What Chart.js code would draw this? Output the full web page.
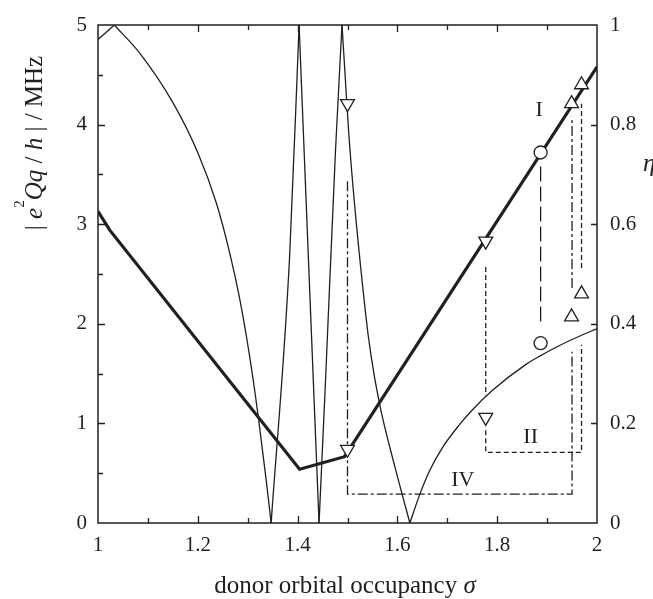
<!DOCTYPE html>
<html>
<head>
<meta charset="utf-8">
<script src="https://cdn.jsdelivr.net/npm/chart.js@4.4.0/dist/chart.umd.min.js"></script>
<style>
  html, body { margin:0; padding:0; background:#fff; }
</style>
</head>
<body>
<canvas id="c" width="653" height="599"></canvas>
<script>
// |e^2Qq/h| (MHz) against donor orbital occupancy sigma
const qccX = [1.0, 1.0236, 1.404, 1.494, 2.0];
const qccY = [3.13, 2.94, 0.54, 0.666, 4.58];

// asymmetry parameter eta (right axis)
const etaX = [1.0, 1.0327, 1.084, 1.1507, 1.2007, 1.2373, 1.264, 1.284, 1.304, 1.3207, 1.3373, 1.347,
              1.384, 1.403, 1.425, 1.443, 1.456, 1.476, 1.489, 1.505, 1.536, 1.547, 1.564, 1.597, 1.625,
              1.645, 1.665, 1.69, 1.724, 1.751, 1.79, 1.857, 1.887, 1.924, 1.99, 2.0];
const etaY = [0.971, 1.0, 0.943, 0.843, 0.742, 0.642, 0.542, 0.45, 0.334, 0.217, 0.084, 0.0,
              0.535, 1.0, 0.448, 0.0, 0.287, 0.749, 1.0, 0.749, 0.423, 0.337, 0.24, 0.105, 0.0,
              0.058, 0.106, 0.151, 0.197, 0.228, 0.266, 0.318, 0.336, 0.356, 0.386, 0.39];
// indices of the sharp corners of the eta curve
const etaCusps = [0, 1, 11, 13, 15, 18, 24, 35];

// measured points: coupling constant (left) and eta (right)
const downX = [1.5, 1.777];
const downQ = [0.74, 2.83];
const downEta = [0.842, 0.212];
const circX = [1.887];
const circQ = [3.72];
const circEta = [0.361];
const upX = [1.949, 1.969];
const upQ = [4.21, 4.40];
const upEta = [0.414, 0.46];

// bracket lines (left axis units), null = break
const ivX = [1.5, 1.5, 1.95, 1.95, 1.95, 1.95, 1.95];
const ivY = [3.43, 0.29, 0.29, 1.72, null, 2.36, 4.08];
const iiX = [1.777, 1.777, 1.777, 1.777, 1.777, 1.969, 1.969, 1.969, 1.969, 1.969];
const iiY = [2.57, 1.28, null, 0.93, 0.71, 0.71, 1.79, null, 2.56, 4.21];
const iX = [1.887, 1.887];
const iY = [3.58, 1.98];

// region labels
const regionText = ['I', 'II', 'IV'];
const regionX = [1.884, 1.867, 1.731];
const regionY = [4.14, 0.858, 0.43];

const ink = '#231f20';
const serif = '"Liberation Serif", "DejaVu Serif", serif';
const pts = (xs, ys) => xs.map((x, i) => ({ x: x, y: ys[i] }));

function drawRich(ctx, parts, x, y) {
  const fontOf = s => s === 'i' ? 'italic 25px ' + serif : (s === 's' ? '15px ' + serif : '25px ' + serif);
  let w = 0;
  parts.forEach(p => { ctx.font = fontOf(p[1]); w += ctx.measureText(p[0]).width; });
  let cx = x - w / 2;
  ctx.textAlign = 'left';
  ctx.textBaseline = 'alphabetic';
  parts.forEach(p => {
    ctx.font = fontOf(p[1]);
    ctx.fillText(p[0], cx, y + (p[1] === 's' ? -18 : 0));
    cx += ctx.measureText(p[0]).width;
  });
}

const frame = {
  id: 'frame',
  afterDraw(chart) {
    const { ctx, chartArea: a, scales } = chart;
    const x = scales.x, y = scales.y, y1 = scales.y1;
    ctx.save();
    ctx.strokeStyle = ink;
    ctx.lineWidth = 1.5;
    ctx.strokeRect(a.left, a.top, a.right - a.left, a.bottom - a.top);
    ctx.lineWidth = 1.3;
    ctx.beginPath();
    // inward ticks, x every 0.1
    for (let i = 1; i < 10; i++) {
      const px = Math.round(x.getPixelForValue(1 + i / 10)) + 0.5;
      const len = i % 2 === 0 ? 7 : 5;
      ctx.moveTo(px, a.bottom); ctx.lineTo(px, a.bottom - len);
      ctx.moveTo(px, a.top); ctx.lineTo(px, a.top + len);
    }
    // left every 0.5
    for (let i = 1; i < 10; i++) {
      const py = Math.round(y.getPixelForValue(i / 2)) + 0.5;
      const len = i % 2 === 0 ? 7 : 5;
      ctx.moveTo(a.left, py); ctx.lineTo(a.left + len, py);
    }
    // right every 0.2
    for (let i = 1; i < 5; i++) {
      const py = Math.round(y1.getPixelForValue(i / 5)) + 0.5;
      ctx.moveTo(a.right, py); ctx.lineTo(a.right - 6, py);
    }
    ctx.stroke();

    ctx.fillStyle = ink;
    // region labels
    ctx.font = '22px ' + serif;
    ctx.textAlign = 'center';
    ctx.textBaseline = 'middle';
    regionText.forEach((t, i) => ctx.fillText(t, x.getPixelForValue(regionX[i]), y.getPixelForValue(regionY[i])));

    // x title
    drawRich(ctx, [['donor orbital occupancy ', 'n'], ['\u03c3', 'i']], 345, 593);
    // right title
    ctx.font = 'italic 25px ' + serif;
    ctx.textAlign = 'left';
    ctx.textBaseline = 'alphabetic';
    ctx.fillText('\u03b7', 643, 171);
    // left title, rotated
    ctx.translate(42, 143);
    ctx.rotate(-Math.PI / 2);
    drawRich(ctx, [['| ', 'n'], ['e', 'i'], ['2', 's'], ['Qq', 'i'], [' / ', 'n'], ['h', 'i'], [' | / MHz', 'n']], 0, 0);
    ctx.restore();
  }
};

const lineSet = (data, axis, width, dash, order) => ({
  data: data, yAxisID: axis, showLine: true, pointRadius: 0, borderColor: ink,
  borderWidth: width, borderDash: dash, borderJoinStyle: 'miter', fill: false, order: order
});
const markSet = (data, axis, style, rot, r) => ({
  data: data, yAxisID: axis, showLine: false, pointStyle: style, rotation: rot,
  pointRadius: r, pointBackgroundColor: '#fff', pointBorderColor: ink, pointBorderWidth: 1.3, order: 0
});

// eta curve: one smooth piece between each pair of corners
const etaPts = pts(etaX, etaY);
const etaSets = [];
for (let k = 0; k < etaCusps.length - 1; k++) {
  const s = lineSet(etaPts.slice(etaCusps[k], etaCusps[k + 1] + 1), 'y1', 1.3, [], 2);
  s.cubicInterpolationMode = 'monotone';
  etaSets.push(s);
}

new Chart(document.getElementById('c'), {
  type: 'scatter',
  data: {
    datasets: [
      lineSet(pts(qccX, qccY), 'y', 3.2, [], 2),
      ...etaSets,
      lineSet(pts(ivX, ivY), 'y', 1.3, [10, 3, 3, 3], 3),
      lineSet(pts(iiX, iiY), 'y', 1.3, [5, 3], 3),
      lineSet(pts(iX, iY), 'y', 1.3, [15, 5], 3),
      markSet(pts(downX, downQ), 'y', 'triangle', 180, 8),
      markSet(pts(downX, downEta), 'y1', 'triangle', 180, 8),
      markSet(pts(circX, circQ), 'y', 'circle', 0, 6.5),
      markSet(pts(circX, circEta), 'y1', 'circle', 0, 6.5),
      markSet(pts(upX, upQ), 'y', 'triangle', 0, 8),
      markSet(pts(upX, upEta), 'y1', 'triangle', 0, 8)
    ]
  },
  options: {
    responsive: false,
    animation: false,
    layout: { padding: { top: 25, left: 0, right: 0, bottom: 0 } },
    plugins: { legend: { display: false }, tooltip: { enabled: false } },
    scales: {
      x: {
        type: 'linear', position: 'bottom', min: 1, max: 2,
        ticks: { stepSize: 0.2, padding: 2, color: ink, font: { family: serif, size: 21 },
                 maxRotation: 0, autoSkip: false, callback: v => String(Number(v.toFixed(1))) },
        grid: { display: false }, border: { display: false },
        afterFit(s) { s.height = 76; }
      },
      y: {
        type: 'linear', position: 'left', min: 0, max: 5,
        ticks: { stepSize: 1, padding: 3, color: ink, font: { family: serif, size: 21 } },
        grid: { display: false }, border: { display: false },
        afterFit(s) { s.width = 98; }
      },
      y1: {
        type: 'linear', position: 'right', min: 0, max: 1,
        ticks: { stepSize: 0.2, padding: 5, color: ink, font: { family: serif, size: 21 },
                 callback: v => String(Number(v.toFixed(1))) },
        grid: { display: false }, border: { display: false },
        afterFit(s) { s.width = 56; }
      }
    }
  },
  plugins: [frame]
});
</script>
</body>
</html>
